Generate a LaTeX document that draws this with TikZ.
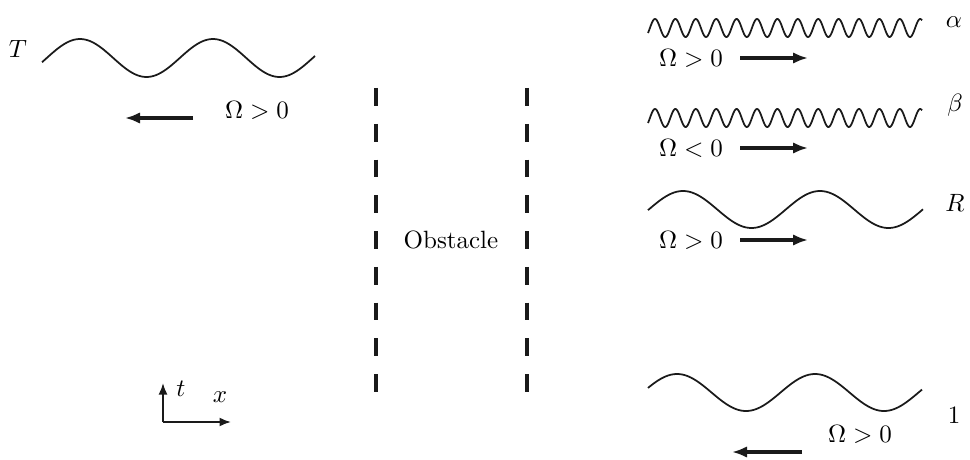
\documentclass[tikz,border=0pt]{standalone}
\usepackage{amsmath,amssymb}
\usepackage{xcolor}
\usetikzlibrary{arrows.meta,positioning}
\definecolor{ink}{HTML}{1A1A1A}

\begin{document}
\begin{tikzpicture}[x=0.4pt,y=-0.4pt]
    \tikzset{
      wave/.style={draw=ink,line width=0.7pt,smooth},
      flow/.style={-{Latex[length=6pt,width=4.6pt]},draw=ink,line width=1.35pt},
      axis/.style={-{Latex[length=4.6pt,width=3.6pt]},draw=ink,line width=0.75pt},
      wall/.style={draw=ink,line width=1.9pt,dash pattern=on 7.1pt off 7.2pt},
      lbl/.style={inner sep=0pt,font=\normalsize}
    }
    \useasboundingbox (0,0) rectangle (970,459);
    % incoming wave T (left)
    \draw[wave] plot[domain=42:315,samples=120] (\x,{58-19*cos((360/133)*(\x-80))});
    \node[lbl] (labT) at (18,49) {$T$};
    \node[lbl] (omT) at (257,110) {$\Omega>0$};
    \coordinate (tS) at (193,118);
    \coordinate (tE) at (125,118);
    \draw[flow] (tS) -- (tE);
    % obstacle
    \coordinate (wL1) at (376,88);
    \coordinate (wL2) at (376,393);
    \coordinate (wR1) at (527,88);
    \coordinate (wR2) at (527,393);
    \draw[wall] (wL1) -- (wL2);
    \draw[wall] (wR1) -- (wR2);
    \node[lbl] (obst) at (451,240) {Obstacle};
    % alpha
    \draw[wave] plot[domain=648:922,samples=500] (\x,{28-9*cos((360/20.4)*(\x-655))});
    \node[lbl] (labA) at (954,22) {$\alpha$};
    \node[lbl] (omA) at (691,58) {$\Omega>0$};
    \coordinate (aS) at (740,58);
    \coordinate (aE) at (808,58);
    \draw[flow] (aS) -- (aE);
    % beta
    \draw[wave] plot[domain=648:922,samples=500] (\x,{118-9*cos((360/20.4)*(\x-655))});
    \node[lbl] (labB) at (955,105) {$\beta$};
    \node[lbl] (omB) at (691,148) {$\Omega<0$};
    \coordinate (bS) at (740,148);
    \coordinate (bE) at (808,148);
    \draw[flow] (bS) -- (bE);
    % R
    \draw[wave] plot[domain=648:923,samples=150] (\x,{209.5-18.5*cos((360/137)*(\x-683))});
    \node[lbl] (labR) at (955,203) {$R$};
    \node[lbl] (omR) at (691,240) {$\Omega>0$};
    \coordinate (rS) at (740,240);
    \coordinate (rE) at (808,240);
    \draw[flow] (rS) -- (rE);
    % 1
    \draw[wave] plot[domain=648:922,samples=150] (\x,{392.5-18.5*cos((360/138)*(\x-677))});
    \node[lbl] (lab1) at (954,415) {$1$};
    \node[lbl] (om1) at (860,434) {$\Omega>0$};
    \coordinate (oS) at (802,452);
    \coordinate (oE) at (732,452);
    \draw[flow] (oS) -- (oE);
    % axes
    \coordinate (orig) at (163,422);
    \coordinate (tTip) at (163,383);
    \coordinate (xTip) at (231,422);
    \draw[axis] (orig) -- (tTip);
    \draw[axis] (orig) -- (xTip);
    \node[lbl] (labt) at (181,389) {$t$};
    \node[lbl] (labx) at (220,397) {$x$};
  \end{tikzpicture}
\end{document}
